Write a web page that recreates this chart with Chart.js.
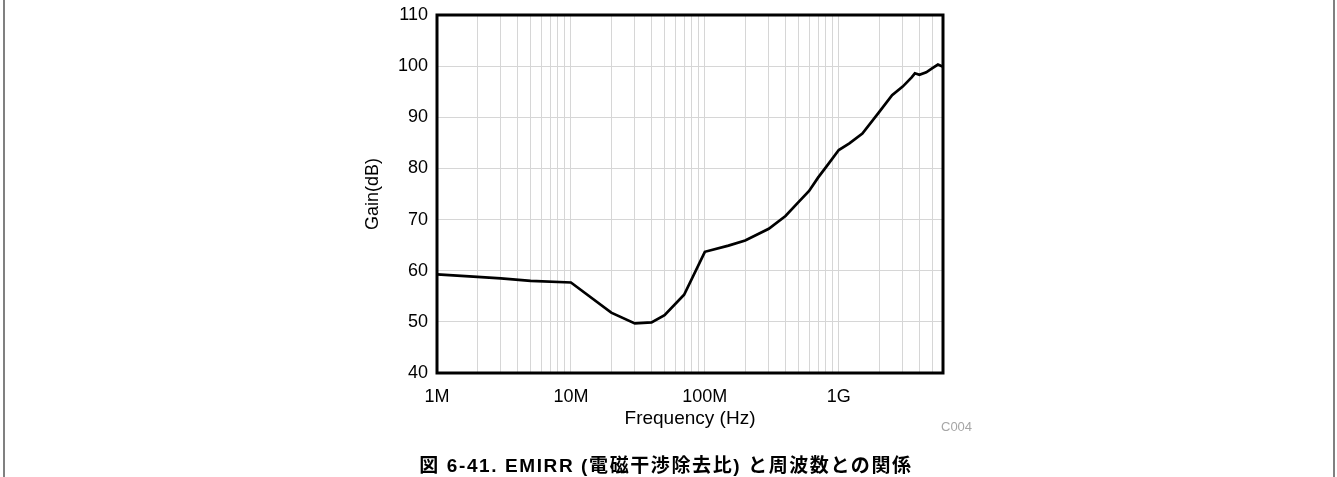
<!DOCTYPE html>
<html>
<head>
<meta charset="utf-8">
<script src="https://cdn.jsdelivr.net/npm/chart.js@4.4.0/dist/chart.umd.min.js"></script>
<style>
  html, body { margin: 0; padding: 0; background: #fff; }
  body { width: 1337px; height: 477px; position: relative; overflow: hidden; font-family: "Liberation Sans", Arial, sans-serif; }
  #frame { position: absolute; left: 3px; top: 0; width: 1328px; height: 477px; border-left: 2px solid #808080; border-right: 2px solid #808080; }
  #chart-box { position: absolute; left: 0; top: 0; width: 1337px; height: 477px; }
  #code { position: absolute; left: 941px; top: 420px; font-size: 13px; line-height: 13px; color: #a6a6a6; }
  #caption { position: absolute; left: 0; top: 456px; width: 1332px; text-align: center; font-size: 19px; line-height: 19px; letter-spacing: 1.6px; font-weight: bold; color: #000; font-family: "Liberation Sans", "Noto Sans CJK JP", sans-serif; }
</style>
</head>
<body>
<div id="frame"></div>
<div id="chart-box"><canvas id="emirrChart" width="1337" height="477"></canvas></div>
<div id="code">C004</div>
<div id="caption">図 6-41. EMIRR (電磁干渉除去比) と周波数との関係</div>
<script>
// values
const freqHz = [1e6, 2e6, 3e6, 5e6, 1e7, 2e7, 3e7, 4e7, 5e7, 7e7, 1e8, 1.5e8, 2e8, 3e8, 4e8, 5e8, 6e8, 7e8, 8e8,
    1e9, 1.2e9, 1.5e9, 2e9, 2.5e9, 3e9, 3.5e9, 3.7e9, 4e9, 4.5e9, 5e9, 5.5e9, 6e9];
const gainDb = [59.3, 58.8, 58.5, 58.0, 57.7, 51.8, 49.7, 49.9, 51.3, 55.3, 63.7, 64.9, 65.9, 68.2, 70.7, 73.4, 75.6, 78.2, 80.2,
    83.6, 84.9, 86.8, 91.0, 94.3, 96.0, 97.8, 98.6, 98.3, 98.8, 99.6, 100.3, 99.9];

const decadeTicks = [1e6, 1e7, 1e8, 1e9];
const decadeLabels = ['1M', '10M', '100M', '1G'];
const yTicks = [40, 50, 60, 70, 80, 90, 100, 110];
const X_MIN = 1e6;
const X_MAX = 6e9;

// log grid: 1..9 in every decade
const xGridValues = [];
decadeTicks.forEach(d => {
    for (let s = 1; s <= 9; s++) {
        if (d * s <= X_MAX) xGridValues.push(d * s);
    }
});

const FONT = { family: '"Liberation Sans", Arial, sans-serif', size: 18 };
const TITLE_FONT = { family: '"Liberation Sans", Arial, sans-serif', size: 19 };
const GRID = '#d6d6d6';

const plotFrame = {
    id: 'plotFrame',
    afterDraw(chart) {
        const { ctx, chartArea: a } = chart;
        ctx.save();
        ctx.strokeStyle = '#000';
        ctx.lineWidth = 3;
        ctx.strokeRect(a.left, a.top, a.right - a.left, a.bottom - a.top);
        ctx.restore();
    }
};

const ctx = document.getElementById('emirrChart').getContext('2d');
new Chart(ctx, {
    type: 'line',
    data: {
        datasets: [{
            data: freqHz.map((f, i) => ({ x: f, y: gainDb[i] })),
            borderColor: '#000',
            borderWidth: 2.7,
            pointRadius: 0,
            fill: false,
            tension: 0
        }]
    },
    options: {
        responsive: false,
        animation: false,
        devicePixelRatio: 1,
        layout: { padding: { left: 357, right: 394, top: 15, bottom: 44 } },
        plugins: { legend: { display: false }, tooltip: { enabled: false } },
        scales: {
            x: {
                type: 'logarithmic',
                min: X_MIN,
                max: X_MAX,
                afterBuildTicks: scale => { scale.ticks = xGridValues.map(v => ({ value: v })); },
                afterFit: scale => { scale.height = 60; },
                grid: { color: GRID, lineWidth: 1, drawTicks: false },
                border: { display: false },
                ticks: {
                    autoSkip: false,
                    maxRotation: 0,
                    padding: 13,
                    color: '#000',
                    font: FONT,
                    callback: function(value) {
                        const i = decadeTicks.indexOf(value);
                        return i >= 0 ? decadeLabels[i] : '';
                    }
                },
                title: { display: true, text: 'Frequency (Hz)', color: '#000', font: TITLE_FONT, padding: { top: 0, bottom: 3 } }
            },
            y: {
                min: 40,
                max: 110,
                afterBuildTicks: scale => { scale.ticks = yTicks.map(v => ({ value: v })); },
                afterFit: scale => {
                    scale.width = 80;
                    // keep label overhang from pushing the plot area down
                    scale.paddingTop = 0;
                    scale.paddingBottom = 0;
                },
                grid: { color: GRID, lineWidth: 1, drawTicks: false },
                border: { display: false },
                ticks: { padding: 9, color: '#000', font: FONT },
                title: { display: true, text: 'Gain(dB)', color: '#000', font: FONT, padding: { top: 5, bottom: 0 } }
            }
        }
    },
    plugins: [plotFrame]
});
</script>
</body>
</html>
